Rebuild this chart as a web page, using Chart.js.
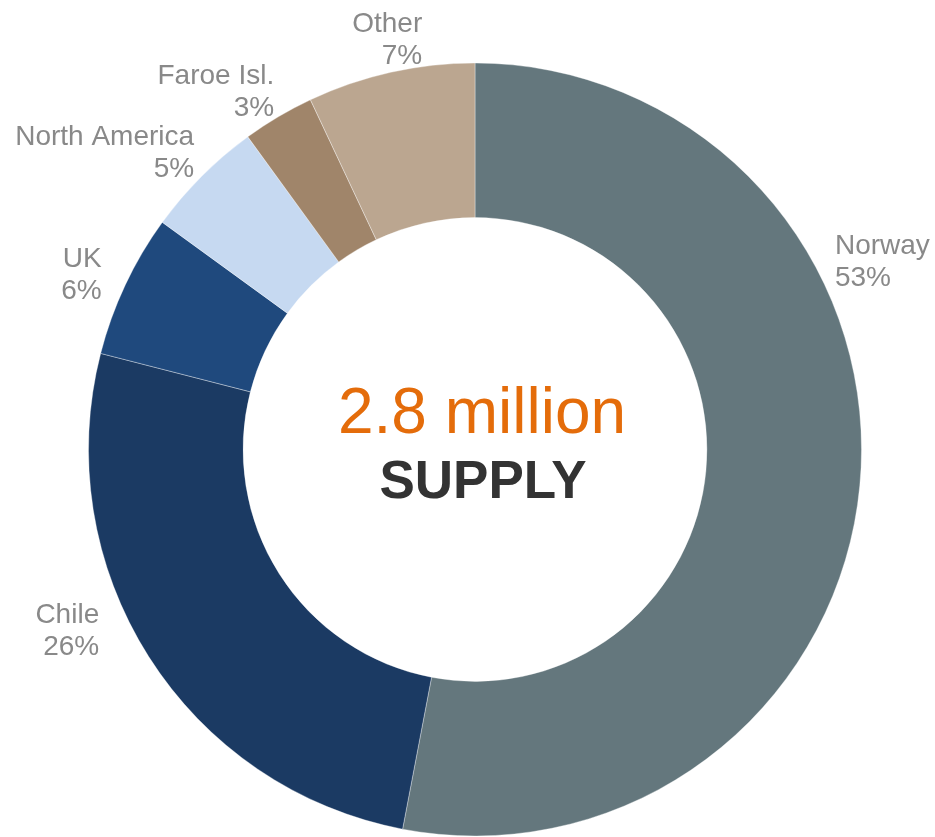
<!DOCTYPE html>
<html>
<head>
<meta charset="utf-8">
<title>Supply</title>
<script src="https://cdn.jsdelivr.net/npm/chart.js@4"></script>
<style>
    html, body { margin: 0; padding: 0; background: #fff; overflow: hidden; }
    #chartBox { width: 935px; height: 837px; }
</style>
</head>
<body>
<div id="chartBox"><canvas id="supplyChart" width="935" height="837"></canvas></div>
<script>
// supply share by origin, in percent
const regions = ["Norway", "Chile", "UK", "North America", "Faroe Isl.", "Other"];
const shares = [53, 26, 6, 5, 3, 7];
const sliceColors = ["#64777d", "#1b3a63", "#1f497d", "#c6d9f1", "#a0856a", "#bba690"];
const totalText = "2.8 million";
const totalCaption = "SUPPLY";

// where each label box sits: angle clockwise from 12 o'clock, distance as a share of the outer radius
const labelSpots = [
    { angle: 64.9, dist: 1.164, align: "left" },
    { angle: 246.3, dist: 1.152, align: "right" },
    { angle: 294.3, dist: 1.117, align: "right" },
    { angle: 309.0, dist: 1.233, align: "right" },
    { angle: 324.3, dist: 1.149, align: "right" },
    { angle: 348.0, dist: 1.092, align: "right" }
];

const sliceLabels = {
    id: "sliceLabels",
    afterDraw(chart) {
        const ctx = chart.ctx;
        const arcs = chart.getDatasetMeta(0).data;
        if (!arcs.length) return;
        const cx = arcs[0].x, cy = arcs[0].y, R = arcs[0].outerRadius;

        ctx.save();
        ctx.font = "28px 'Liberation Sans', Arial, sans-serif";
        ctx.fillStyle = "#898989";
        ctx.textBaseline = "alphabetic";
        regions.forEach(function(name, i) {
            const spot = labelSpots[i];
            const a = spot.angle * Math.PI / 180;
            const bx = cx + Math.sin(a) * R * spot.dist;
            const by = cy - Math.cos(a) * R * spot.dist;
            const lines = [name, shares[i] + "%"];
            const w = Math.max.apply(null, lines.map(function(t) { return ctx.measureText(t).width; }));
            ctx.textAlign = spot.align;
            const x = spot.align === "left" ? bx - w / 2 : bx + w / 2;
            ctx.fillText(lines[0], x, by - 5);
            ctx.fillText(lines[1], x, by + 27);
        });

        // centre caption
        ctx.textAlign = "center";
        ctx.fillStyle = "#e46c0a";
        ctx.font = "64px 'Liberation Sans', Arial, sans-serif";
        ctx.fillText(totalText, cx + 7, cy - 17);
        ctx.fillStyle = "#333333";
        ctx.font = "bold 53px 'Liberation Sans', Arial, sans-serif";
        ctx.fillText(totalCaption, cx + 8, cy + 48);
        ctx.restore();
    }
};

const ctx = document.getElementById("supplyChart").getContext("2d");
const supplyChart = new Chart(ctx, {
    type: "doughnut",
    data: {
        labels: regions,
        datasets: [{
            data: shares,
            backgroundColor: sliceColors,
            borderColor: "rgba(255,255,255,0.35)",
            borderWidth: 1
        }]
    },
    options: {
        responsive: false,
        maintainAspectRatio: false,
        animation: false,
        cutout: "60%",
        layout: { padding: { left: 88, right: 73, top: 62, bottom: 0 } },
        plugins: {
            legend: { display: false },
            tooltip: { enabled: false }
        }
    },
    plugins: [sliceLabels]
});
</script>
</body>
</html>
